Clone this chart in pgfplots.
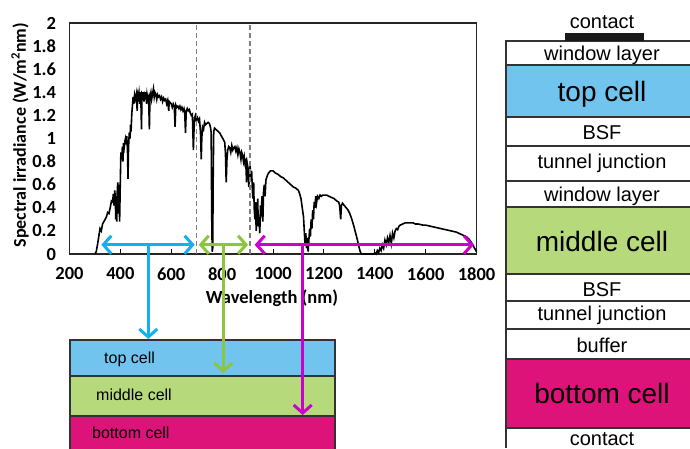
\documentclass[border=0pt]{standalone}
\usepackage{fontspec}
\setmainfont{Carlito}
\newfontfamily\arialfont{Liberation Sans}
\usepackage{pgfplots}
\usepackage{pgfplotstable}
\pgfplotsset{compat=1.18}
\usetikzlibrary{arrows.meta}

\definecolor{arrblue}{HTML}{12B0EE}
\definecolor{arrgreen}{HTML}{8CC63F}
\definecolor{arrmag}{HTML}{CC00CC}
\definecolor{fillblue}{HTML}{70C4EE}
\definecolor{fillgreen}{HTML}{B6D97C}
\definecolor{fillmag}{HTML}{DE137A}
\definecolor{edge}{HTML}{333333}

% solar spectral irradiance (W m^-2 nm^-1)
\pgfplotstableread{
nm irr
300 0
305 0.02
310 0.08
315 0.15
320 0.22
325 0.20
330 0.26
335 0.28
340 0.30
345 0.32
350 0.36
355 0.35
360 0.40
365 0.46
370 0.45
372 0.52
375 0.42
378 0.55
380 0.48
382 0.30
384 0.50
386 0.28
388 0.56
390 0.62
393 0.35
395 0.60
397 0.28
400 0.66
402 0.88
405 0.82
408 0.93
410 0.80
412 0.96
415 0.92
418 0.98
420 1.00
423 0.95
425 1.02
428 0.90
430 0.65
432 0.92
435 1.05
438 1.00
440 1.12
442 1.06
445 1.22
448 1.30
450 1.36
453 1.30
456 1.38
460 1.34
463 1.38
466 1.24
468 1.38
470 1.36
473 1.40
476 1.30
478 1.36
480 1.40
483 1.08
485 1.38
488 1.36
490 1.40
493 1.32
495 1.38
498 1.36
500 1.40
503 1.30
505 1.38
508 1.34
511 1.36
514 1.08
516 1.32
518 1.38
520 1.40
523 1.34
526 1.38
530 1.43
533 1.36
536 1.40
540 1.38
543 1.34
546 1.38
550 1.36
554 1.37
558 1.34
562 1.36
566 1.32
570 1.35
574 1.33
578 1.34
582 1.30
586 1.33
590 1.24
592 1.32
596 1.31
600 1.30
604 1.27
608 1.30
612 1.28
615 1.10
618 1.29
622 1.27
626 1.28
630 1.26
634 1.28
638 1.25
642 1.27
646 1.24
650 1.26
653 1.22
656 1.05
659 1.24
663 1.26
667 1.24
671 1.25
675 1.22
679 1.20
683 1.21
687 0.90
689 1.05
692 1.18
695 1.20
699 1.16
703 1.18
707 1.15
711 1.17
715 1.05
718 0.82
720 1.00
723 1.10
727 1.08
731 1.14
735 1.12
740 1.13
745 1.14
750 1.13
754 1.10
757 1.05
759 0.35
761 0.02
763 0.05
765 0.70
767 1.06
770 1.09
775 1.08
780 1.07
785 1.06
790 1.05
795 1.03
800 1.01
805 0.99
810 0.97
813 0.88
816 0.62
819 0.82
822 0.90
826 0.93
830 0.92
834 0.88
838 0.94
842 0.90
846 0.92
850 0.93
854 0.89
858 0.92
862 0.86
866 0.91
870 0.88
874 0.82
877 0.88
880 0.86
884 0.80
887 0.84
890 0.78
893 0.80
896 0.62
899 0.78
902 0.74
905 0.58
907 0.70
910 0.76
913 0.65
916 0.72
919 0.55
921 0.48
924 0.62
926 0.40
929 0.30
931 0.45
934 0.20
937 0.35
940 0.48
942 0.24
945 0.32
948 0.18
951 0.42
954 0.38
957 0.50
960 0.28
963 0.55
966 0.60
969 0.50
972 0.64
975 0.66
978 0.68
982 0.70
986 0.71
990 0.72
995 0.72
1000 0.72
1010 0.70
1020 0.69
1030 0.67
1040 0.66
1050 0.64
1060 0.62
1070 0.60
1080 0.58
1090 0.57
1100 0.55
1105 0.52
1110 0.48
1115 0.40
1120 0.32
1123 0.20
1126 0.08
1129 0.18
1132 0.05
1135 0.14
1138 0.02
1141 0.12
1144 0.22
1147 0.15
1150 0.30
1153 0.22
1156 0.38
1159 0.30
1162 0.45
1165 0.40
1168 0.50
1171 0.44
1175 0.50
1180 0.48
1185 0.51
1190 0.50
1195 0.51
1200 0.51
1210 0.51
1220 0.50
1230 0.49
1240 0.48
1250 0.46
1258 0.45
1262 0.42
1266 0.30
1269 0.42
1273 0.44
1280 0.42
1288 0.40
1295 0.38
1302 0.35
1310 0.30
1318 0.24
1325 0.18
1332 0.12
1338 0.06
1343 0.02
1348 0
1395 0
1400 0.01
1405 0
1410 0.03
1415 0.01
1420 0.05
1425 0.03
1430 0.08
1435 0.05
1440 0.12
1445 0.08
1450 0.14
1455 0.10
1460 0.16
1465 0.09
1470 0.18
1475 0.14
1480 0.20
1485 0.22
1490 0.21
1495 0.24
1500 0.25
1510 0.26
1520 0.27
1530 0.27
1540 0.27
1550 0.27
1560 0.26
1570 0.26
1580 0.255
1590 0.25
1600 0.25
1610 0.245
1620 0.24
1630 0.235
1640 0.23
1650 0.225
1660 0.22
1670 0.215
1680 0.21
1690 0.205
1700 0.20
1710 0.195
1720 0.19
1730 0.18
1740 0.17
1750 0.16
1760 0.15
1770 0.13
1780 0.10
1790 0.06
1800 0.02
}\spectrum

\begin{document}
\begin{tikzpicture}[
  barb/.style={line width=3pt, -{Straight Barb[length=8pt,width=18pt]}},
  dbarb/.style={line width=3pt, {Straight Barb[length=8pt,width=18pt]}-{Straight Barb[length=8pt,width=18pt]}},
]
\path[use as bounding box] (0,0) rectangle (690pt,-448pt);

\begin{axis}[
  at={(69.5pt,-254pt)}, anchor=south west,
  scale only axis, width=407pt, height=231pt,
  xmin=200, xmax=1800, ymin=0, ymax=2,
  xtick={200,400,...,1800},
  ytick={0,0.2,0.4,0.6,0.8,1,1.2,1.4,1.6,1.8,2},
  tick align=inside,
  xtick pos=lower, ytick pos=left,
  major tick length=5pt,
  ytick style={draw=none},
  xtick style={line width=0.8pt, black},
  axis line style={line width=1.3pt, black!85},
  tick label style={font=\fontsize{18.5}{22}\selectfont\bfseries},
  xticklabel style={yshift=-10pt},
  yticklabel style={xshift=-10pt},
  /pgf/number format/1000 sep={},
  /pgf/number format/assume math mode=true,
  clip=false,
]
\addplot[black, line width=1.6pt] table[x=nm,y=irr]{\spectrum};
\draw[black!50, line width=1.5pt, dash pattern=on 5pt off 3pt] (axis cs:700,0) -- (axis cs:700,2);
\draw[black!50, line width=1.5pt, dash pattern=on 5pt off 3pt] (axis cs:910,0) -- (axis cs:910,2);
% absorption ranges of the three sub-cells
\draw[dbarb, arrblue] (axis cs:325,0.08) -- (axis cs:692,0.08);
\draw[dbarb, arrgreen] (axis cs:708,0.08) -- (axis cs:902,0.08);
\draw[dbarb, arrmag] (axis cs:928,0.08) -- (axis cs:1790,0.08);
\end{axis}

\begin{scope}[x=1pt, y=-1pt]
% axis titles
\node[font=\fontsize{18.5}{22}\selectfont\bfseries] at (272,298) {Wavelength (nm)};
\node[font=\fontsize{18}{22}\selectfont\bfseries, rotate=90] at (20,135) {Spectral irradiance (W/m\textsuperscript{2}nm)};

% simplified stack
\fill[fillblue] (70,340) rectangle (335,376);
\fill[fillgreen] (70,376) rectangle (335,416);
\fill[fillmag] (70,416) rectangle (335,450);
\draw[edge, line width=1.5pt] (70,450) -- (70,340) -- (335,340) -- (335,450);
\draw[edge, line width=1.5pt] (70,376) -- (335,376);
\draw[edge, line width=1.5pt] (70,416) -- (335,416);
\node[font=\arialfont\fontsize{16}{19}\selectfont, anchor=base west, inner sep=0pt] at (104,363) {top cell};
\node[font=\arialfont\fontsize{16}{19}\selectfont, anchor=base west, inner sep=0pt] at (96,400) {middle cell};
\node[font=\arialfont\fontsize{16}{19}\selectfont, anchor=base west, inner sep=0pt] at (92,438) {bottom cell};

% drop lines from the ranges to the cells
\draw[barb, arrblue] (148.3,245) -- (148.3,339);
\draw[barb, arrgreen] (223.3,245) -- (223.3,373);
\draw[barb, arrmag] (302.7,245) -- (302.7,415);

% layer structure of the triple-junction cell
\fill[fillblue] (506,65) rectangle (690,117);
\fill[fillgreen] (506,207) rectangle (690,274);
\fill[fillmag] (506,359) rectangle (690,428);
\foreach \yy in {41,65,117,146,181,207,274,301,329,359,428}
  \draw[edge, line width=2pt] (506,\yy) -- (690,\yy);
\draw[edge, line width=2.5pt] (506,40) -- (506,448);
\fill[black!90] (565,33) rectangle (644,41);
\begin{scope}[every node/.style={font=\arialfont\fontsize{20}{24}\selectfont, anchor=base, inner sep=0pt}]
\node at (602,28.3) {contact};
\node at (602,60) {window layer};
\node at (602,139) {BSF};
\node at (602,168) {tunnel junction};
\node at (602,201.7) {window layer};
\node at (602,296.7) {BSF};
\node at (602,320.7) {tunnel junction};
\node at (602,352.7) {buffer};
\node at (602,445) {contact};
\end{scope}
\begin{scope}[every node/.style={font=\arialfont\fontsize{28}{32}\selectfont, anchor=base, inner sep=0pt}]
\node at (602,101.7) {top cell};
\node at (602,251.7) {middle cell};
\node at (602,403.3) {bottom cell};
\end{scope}
\end{scope}
\end{tikzpicture}
\end{document}
